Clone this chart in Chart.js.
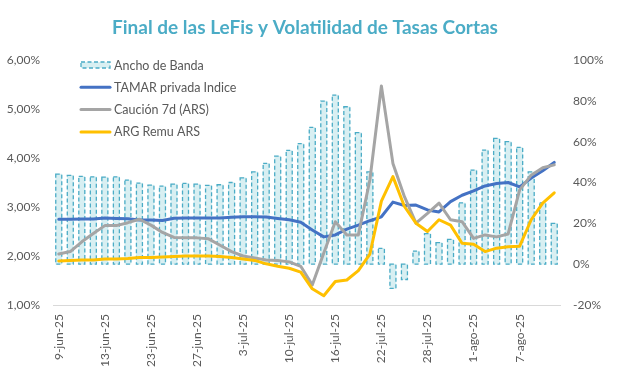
<!DOCTYPE html>
<html>
<head>
<meta charset="utf-8">
<script src="https://cdn.jsdelivr.net/npm/chart.js@4.4.0/dist/chart.umd.min.js"></script>
<style>
    html, body { margin: 0; padding: 0; background: #ffffff; }
</style>
</head>
<body>
<canvas id="lefiChart" width="631" height="390"></canvas>
<script>
// Business days, 9-jun-25 .. 12-ago-25
const fechas = [
    '9-jun-25', '10-jun-25', '11-jun-25', '12-jun-25', '13-jun-25', '17-jun-25', '18-jun-25', '19-jun-25',
    '23-jun-25', '24-jun-25', '25-jun-25', '26-jun-25', '27-jun-25', '30-jun-25', '1-jul-25', '2-jul-25',
    '3-jul-25', '4-jul-25', '7-jul-25', '8-jul-25', '10-jul-25', '11-jul-25', '14-jul-25', '15-jul-25',
    '16-jul-25', '17-jul-25', '18-jul-25', '21-jul-25', '22-jul-25', '23-jul-25', '24-jul-25', '25-jul-25',
    '28-jul-25', '29-jul-25', '30-jul-25', '31-jul-25', '1-ago-25', '4-ago-25', '5-ago-25', '6-ago-25',
    '7-ago-25', '8-ago-25', '11-ago-25', '12-ago-25'
];

// right axis (%)
const anchoBanda = [
    44.1, 43.5, 43.0, 42.8, 42.6, 42.8, 41.2, 39.7, 38.7, 38.2, 39.2, 39.6, 39.2, 38.6, 38.9, 40.0,
    42.3, 45.2, 49.4, 52.9, 55.7, 59.0, 67.0, 79.9, 82.8, 77.1, 64.4, 45.2, 7.7, -11.9, -7.5, 6.4,
    15.0, 10.6, 12.1, 30.0, 46.1, 55.9, 61.6, 60.0, 57.2, 45.2, 30.0, 20.0
];

// left axis (%)
const tamarPrivada = [
    2.75, 2.75, 2.755, 2.755, 2.775, 2.765, 2.76, 2.735, 2.735, 2.725, 2.77, 2.775, 2.775, 2.775, 2.775, 2.79,
    2.80, 2.80, 2.795, 2.765, 2.74, 2.69, 2.53, 2.39, 2.43, 2.55, 2.63, 2.72, 2.80, 3.10, 3.03, 3.04,
    2.94, 2.90, 3.11, 3.24, 3.33, 3.43, 3.48, 3.50, 3.41, 3.59, 3.74, 3.91
];
const caucion7d = [
    2.04, 2.09, 2.29, 2.46, 2.62, 2.62, 2.68, 2.75, 2.63, 2.48, 2.38, 2.37, 2.37, 2.35, 2.22, 2.09,
    2.00, 1.96, 1.92, 1.91, 1.88, 1.79, 1.41, 2.06, 2.70, 2.43, 2.43, 3.55, 5.47, 3.89, 3.21, 2.67,
    2.87, 3.08, 2.74, 2.70, 2.36, 2.43, 2.39, 2.45, 3.35, 3.65, 3.80, 3.86
];
const argRemu = [
    1.90, 1.91, 1.92, 1.92, 1.94, 1.94, 1.95, 1.97, 1.97, 1.98, 1.99, 2.00, 2.00, 2.00, 1.99, 1.97,
    1.94, 1.91, 1.84, 1.79, 1.75, 1.67, 1.33, 1.19, 1.48, 1.51, 1.70, 2.04, 3.12, 3.62, 3.01, 2.67,
    2.50, 2.74, 2.63, 2.26, 2.24, 2.09, 2.16, 2.19, 2.20, 2.74, 3.08, 3.29
];

const TITLE = 'Final de las LeFis y Volatilidad de Tasas Cortas';
const TEXT_GRAY = '#595959';
const TEAL = '#4BACC6';
const BAND_FILL = '#D8EFF2';

Chart.defaults.font.family = 'Lato, "Open Sans", sans-serif';
Chart.defaults.font.size = 12;
Chart.defaults.color = TEXT_GRAY;

// Excel-style dashed outline round each band bar (BarElement fills its border, so stroke it here)
const dashedBarsPlugin = {
    id: 'dashedBars',
    afterDatasetDraw(chart, args) {
        if (args.index !== 0) return;
        const ctx = chart.ctx;
        ctx.save();
        ctx.strokeStyle = TEAL;
        ctx.lineWidth = 1.3;
        ctx.setLineDash([4, 2.5]);
        args.meta.data.forEach((bar) => {
            const { x, y, base, width } = bar.getProps(['x', 'y', 'base', 'width'], true);
            const top = Math.min(y, base);
            ctx.strokeRect(x - width / 2, top, width, Math.abs(base - y));
        });
        ctx.restore();
    },
};

// Title and in-plot legend, placed like the original
const titleLegendPlugin = {
    id: 'titleLegend',
    afterDraw(chart) {
        const ctx = chart.ctx;
        ctx.save();
        ctx.fillStyle = TEAL;
        ctx.font = 'bold 19px Lato, sans-serif';
        ctx.textAlign = 'center';
        ctx.textBaseline = 'middle';
        ctx.fillText(TITLE, 305, 28);

        const x0 = 81;
        const x1 = 110;
        ctx.font = '12.5px Lato, sans-serif';
        ctx.textAlign = 'left';
        chart.data.datasets.forEach((ds, i) => {
            const yy = 65 + i * 22.3;
            if (ds.type === 'bar') {
                ctx.fillStyle = BAND_FILL;
                ctx.fillRect(x0, yy - 3, x1 - x0, 6);
                ctx.strokeStyle = TEAL;
                ctx.lineWidth = 1.3;
                ctx.setLineDash([4, 2.5]);
                ctx.strokeRect(x0, yy - 3, x1 - x0, 6);
                ctx.setLineDash([]);
            } else {
                ctx.strokeStyle = ds.borderColor;
                ctx.lineWidth = 3;
                ctx.lineCap = 'round';
                ctx.beginPath();
                ctx.moveTo(x0, yy);
                ctx.lineTo(x1, yy);
                ctx.stroke();
            }
            ctx.fillStyle = TEXT_GRAY;
            ctx.fillText(ds.label, 114, yy + 0.5);
        });
        ctx.restore();
    },
};

const lineStyle = {
    type: 'line',
    yAxisID: 'y',
    borderWidth: 3,
    pointRadius: 0,
    tension: 0,
    borderJoinStyle: 'round',
    borderCapStyle: 'round',
};

new Chart(document.getElementById('lefiChart').getContext('2d'), {
    data: {
        labels: fechas,
        datasets: [
            {
                type: 'bar',
                label: 'Ancho de Banda',
                data: anchoBanda,
                yAxisID: 'y1',
                backgroundColor: BAND_FILL,
                borderWidth: 0,
                barThickness: 6,
                order: 10,
            },
            { ...lineStyle, label: 'TAMAR privada Indice', data: tamarPrivada, borderColor: '#4472C4', order: 3 },
            { ...lineStyle, label: 'Caución 7d (ARS)', data: caucion7d, borderColor: '#A5A5A5', order: 2 },
            { ...lineStyle, label: 'ARG Remu ARS', data: argRemu, borderColor: '#FFC000', order: 1 },
        ],
    },
    options: {
        responsive: false,
        animation: false,
        devicePixelRatio: 1,
        layout: { padding: { top: 60, left: 0, right: 0, bottom: 0 } },
        plugins: {
            legend: { display: false },
            title: { display: false },
            tooltip: { enabled: false },
        },
        scales: {
            x: {
                offset: true,
                grid: { display: false, drawTicks: false },
                border: { display: true, color: '#D9D9D9', width: 1 },
                ticks: {
                    autoSkip: false,
                    minRotation: 90,
                    maxRotation: 90,
                    padding: 9,
                    callback: function (value, index) {
                        return index % 4 === 0 ? this.getLabelForValue(value) : '';
                    },
                },
                afterFit: (scale) => { scale.height = 85; },
            },
            y: {
                position: 'left',
                min: 1,
                max: 6,
                grid: { display: false, drawTicks: false },
                border: { display: false },
                ticks: {
                    stepSize: 1,
                    padding: 13,
                    callback: (v) => v.toFixed(2).replace('.', ',') + '%',
                },
                afterFit: (scale) => { scale.width = 53; },
            },
            y1: {
                position: 'right',
                min: -20,
                max: 100,
                grid: { display: false, drawTicks: false },
                border: { display: false },
                ticks: {
                    stepSize: 20,
                    padding: 13,
                    callback: (v) => v + '%',
                },
                afterFit: (scale) => { scale.width = 71; },
            },
        },
    },
    plugins: [dashedBarsPlugin, titleLegendPlugin],
});
</script>
</body>
</html>
